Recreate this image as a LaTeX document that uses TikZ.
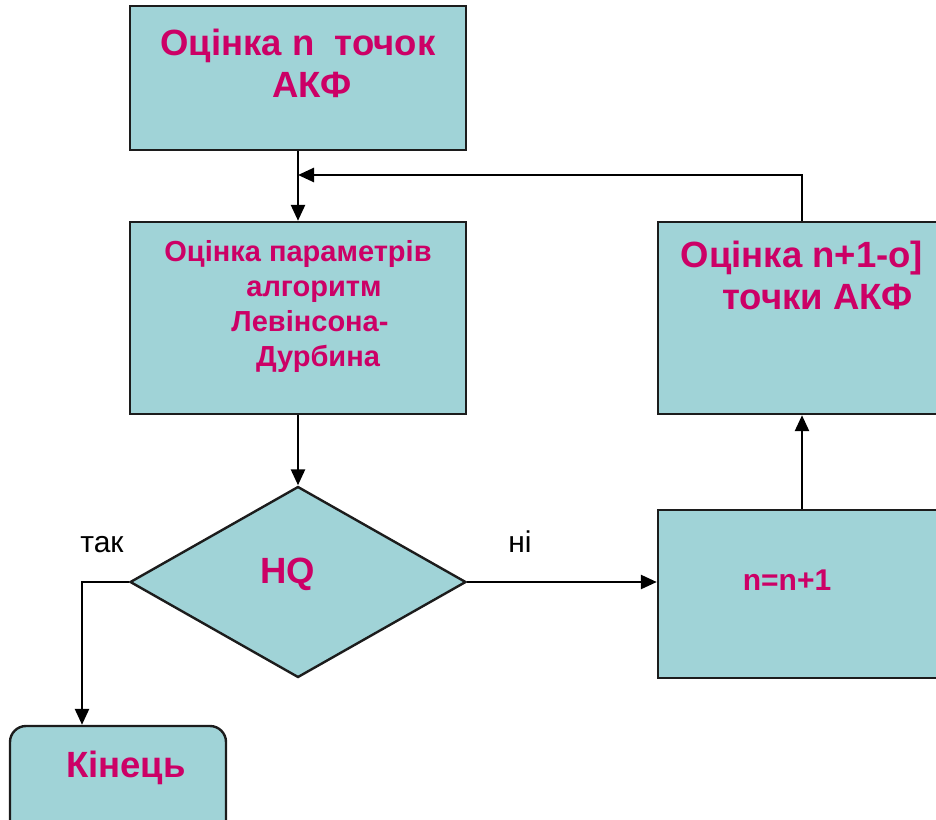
\documentclass[tikz,border=0pt]{standalone}
\usepackage{fontspec}
\setmainfont{Liberation Sans}
\usetikzlibrary{arrows.meta,shapes.geometric}
\definecolor{flowfill}{HTML}{A0D3D7}
\definecolor{flowtext}{HTML}{CC0066}
\definecolor{flowline}{HTML}{1C1C1C}
\tikzset{
  >={Triangle[length=16pt,width=14pt]},
  block/.style={draw=flowline, fill=flowfill, line width=2.4pt, inner sep=0pt},
  flow/.style={black, line width=2.6pt},
  bigtxt/.style={font=\bfseries\fontsize{36.5}{42}\selectfont, text=flowtext,
    align=center, anchor=base, inner sep=0pt},
  midtxt/.style={font=\bfseries\fontsize{29}{35}\selectfont, text=flowtext,
    align=center, anchor=base, inner sep=0pt},
  answer/.style={font=\fontsize{30}{36}\selectfont, text=black,
    anchor=base, inner sep=0pt},
}
\begin{document}
\begin{tikzpicture}[x=1pt, y=-1pt]
\useasboundingbox (0,0) rectangle (936,819);
\clip (0,0) rectangle (936,819);
% blocks
\node[block, minimum width=336pt, minimum height=144pt] (acf) at (298,78) {};
\node[block, minimum width=336pt, minimum height=192pt] (levdur) at (298,318) {};
\node[block, diamond, minimum width=336pt, minimum height=191pt] (hq) at (298,582) {};
\node[block, rounded corners=16pt, minimum width=216pt, minimum height=110pt] (fin) at (118,781) {};
\node[block, minimum width=288pt, minimum height=168pt] (incr) at (802,594) {};
\node[block, minimum width=288pt, minimum height=192pt] (nextacf) at (802,318) {};

% texts (base = last line)
\node[bigtxt] (acftxt) at (298,97) {Оцінка n~~точок\\\hspace*{28pt}АКФ};
\node[midtxt] (levtxt) at (298,366) {Оцінка параметрів\\\hspace*{32pt}алгоритм\\
  \hspace*{24pt}Левінсона-\\\hspace*{40pt}Дурбина};
\node[bigtxt] (hqtxt) at (288,583) {HQ};
\node[midtxt, font=\bfseries\fontsize{30}{36}\selectfont] (incrtxt) at (787,590) {n=n+1};
\node[bigtxt] (nexttxt) at (802,309) {Оцінка n+1-о]\\\hspace*{31pt}точки АКФ};
\node[bigtxt] (fintxt) at (126,777) {Кінець};
\node[answer] (yes) at (102,552) {так};
\node[answer] (no) at (520,552) {ні};

% connectors
\coordinate (join) at (acf.south |- 0,175);
\draw[flow, ->] (acf.south) -- (levdur.north);
\draw[flow, ->] (levdur.south) -- (hq.north);
\draw[flow, ->] (hq.east) -- (hq.east -| incr.west);
\draw[flow, ->] (incr.north) -- (nextacf.south);
\draw[flow, ->] (nextacf.north) |- (join);
\draw[flow, ->] (hq.west) -| ([xshift=-36pt]fin.north);
\end{tikzpicture}
\end{document}
